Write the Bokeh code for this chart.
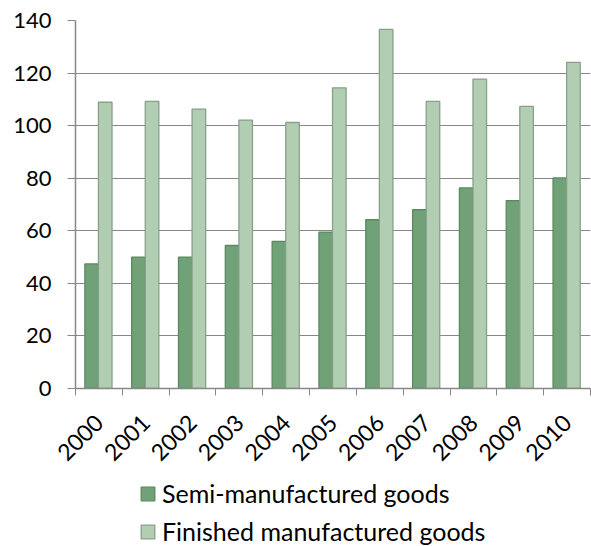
import math
import numpy as np
from bokeh.plotting import figure
from bokeh.layouts import column
from bokeh.models import Range1d, FixedTicker, Legend, LegendItem, ColumnDataSource
from bokeh.embed import file_html
from bokeh.resources import INLINE

years = ["2000", "2001", "2002", "2003", "2004", "2005", "2006", "2007", "2008", "2009", "2010"]
semi = [47.4, 50.0, 50.0, 54.4, 56.0, 59.5, 64.2, 68.0, 76.3, 71.5, 80.1]
finished = [108.9, 109.2, 106.3, 102.1, 101.2, 114.4, 136.6, 109.2, 117.7, 107.3, 124.1]
y_ticks = [0, 20, 40, 60, 80, 100, 120, 140]
series_names = ["Semi-manufactured goods", "Finished manufactured goods"]

FONT = "Lato"
GRID = "#878787"
SEMI_FILL, SEMI_LINE = "#71A277", "#5A8960"
FIN_FILL, FIN_LINE = "#B2CEB2", "#889F89"

n = len(years)
idx = np.arange(n)
centers = idx + 0.49
bar_w = 0.29

src = ColumnDataSource(dict(
    x_semi=centers - bar_w / 2,
    x_fin=centers + bar_w / 2,
    semi=semi,
    finished=finished,
))

p = figure(width=591, height=478, x_range=Range1d(0, n), y_range=Range1d(0, 140),
           output_backend="svg", toolbar_location=None,
           min_border_left=75, min_border_right=1, min_border_top=20, min_border_bottom=90)

p.vbar(x="x_semi", top="semi", width=bar_w, source=src,
       fill_color=SEMI_FILL, line_color=SEMI_LINE, line_width=1.3)
p.vbar(x="x_fin", top="finished", width=bar_w, source=src,
       fill_color=FIN_FILL, line_color=FIN_LINE, line_width=1.3)

p.outline_line_color = None
p.xgrid.visible = False
p.ygrid.ticker = FixedTicker(ticks=y_ticks)
p.ygrid.grid_line_color = GRID
p.ygrid.grid_line_width = 1

xa = p.xaxis[0]
xa.ticker = FixedTicker(ticks=list(idx + 0.5), minor_ticks=list(range(n + 1)))
xa.major_label_overrides = {float(c): y for c, y in zip(idx + 0.5, years)}
xa.major_tick_out = 0
xa.major_tick_in = 0
xa.minor_tick_out = 7
xa.minor_tick_in = 0
xa.minor_tick_line_color = GRID
xa.axis_line_color = GRID
xa.axis_line_width = 1.5
xa.major_label_orientation = math.pi / 4
xa.major_label_text_font = FONT
xa.major_label_text_font_size = "23px"
xa.major_label_text_color = "#000000"
xa.major_label_standoff = 23

ya = p.yaxis[0]
ya.ticker = FixedTicker(ticks=y_ticks, minor_ticks=[])
ya.major_tick_out = 8
ya.major_tick_in = 0
ya.major_tick_line_color = GRID
ya.minor_tick_out = 0
ya.minor_tick_in = 0
ya.axis_line_color = GRID
ya.axis_line_width = 1.5
ya.major_label_text_font = FONT
ya.major_label_text_font_size = "22px"
ya.major_label_text_color = "#000000"
ya.major_label_standoff = 16

# legend lives in a small companion figure below the chart (its frame aligns with the chart's frame)
lf = figure(width=591, height=68, x_range=Range1d(0, 1), y_range=Range1d(0, 1),
            output_backend="svg", toolbar_location=None, min_border=0,
            x_axis_location=None, y_axis_location=None)
lf.grid.visible = False
lf.outline_line_color = None
# swatch renderers: a single non-finite bar that is never drawn; only the legend shows their style
swatch = ColumnDataSource(dict(x=np.array([0.5]), top=np.array([np.nan])))
l1 = lf.vbar(x="x", top="top", width=0.1, source=swatch,
             fill_color=SEMI_FILL, line_color=SEMI_LINE, line_width=1.3)
l2 = lf.vbar(x="x", top="top", width=0.1, source=swatch,
             fill_color=FIN_FILL, line_color=FIN_LINE, line_width=1.3)

legend = Legend(items=[LegendItem(label=series_names[0], renderers=[l1]),
                       LegendItem(label=series_names[1], renderers=[l2])],
                orientation="vertical", location=(64, 0))
legend.label_text_font = FONT
legend.label_text_font_size = "25px"
legend.label_text_color = "#000000"
legend.glyph_width = 17
legend.glyph_height = 17
legend.label_standoff = 6
legend.label_height = 26
legend.spacing = 8
legend.background_fill_alpha = 0
legend.border_line_color = None
legend.margin = 0
legend.padding = 0
lf.add_layout(legend, "center")

layout = column(p, lf, spacing=0)
open("out.html", "w").write(file_html(layout, INLINE))
